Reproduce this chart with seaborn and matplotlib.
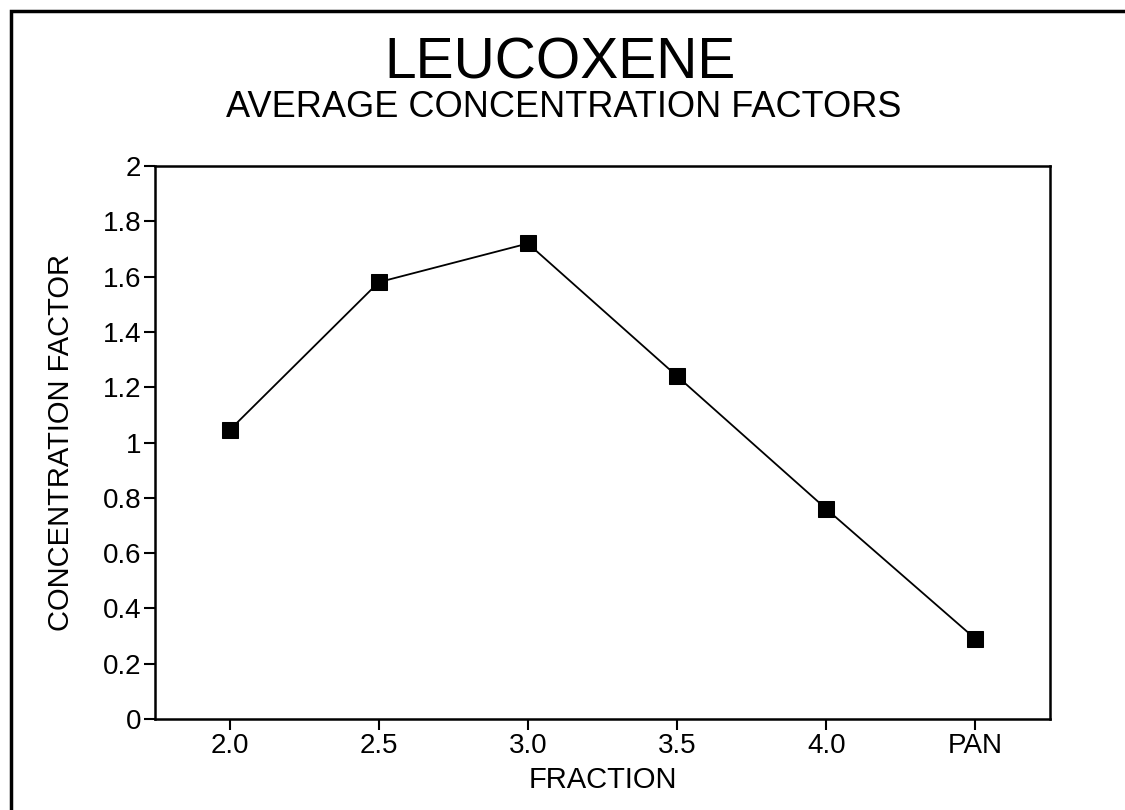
import matplotlib
matplotlib.use("Agg")
import matplotlib.pyplot as plt
import seaborn as sns
import pandas as pd
from matplotlib.patches import Rectangle

# values
fractions = ["2.0", "2.5", "3.0", "3.5", "4.0", "PAN"]
conc_factor = [1.045, 1.58, 1.72, 1.24, 0.76, 0.29]
y_ticks = [0, 0.2, 0.4, 0.6, 0.8, 1, 1.2, 1.4, 1.6, 1.8, 2]
y_tick_labels = ["0", "0.2", "0.4", "0.6", "0.8", "1", "1.2", "1.4", "1.6", "1.8", "2"]

df = pd.DataFrame({"fraction": fractions, "factor": conc_factor})

sns.set_style("white")
plt.rcParams["font.family"] = ["Liberation Sans", "DejaVu Sans"]
plt.rcParams["text.color"] = "black"
plt.rcParams["axes.labelcolor"] = "black"

fig = plt.figure(figsize=(11.25, 8.1), dpi=100)
ax = fig.add_axes([0.1378, 0.1123, 0.7955, 0.6827])

sns.lineplot(data=df, x="fraction", y="factor", sort=False, color="black",
             linewidth=1.3, marker="s", markersize=11, markeredgecolor="black",
             ax=ax)

ax.set_xlim(-0.5, 5.5)
ax.set_ylim(0, 2)
ax.set_yticks(y_ticks)
ax.set_yticklabels(y_tick_labels)
ax.tick_params(axis="both", direction="out", length=8, width=1.5,
               labelsize=20, color="black", labelcolor="black", pad=2)
ax.tick_params(axis="y", left=True)
ax.tick_params(axis="x", bottom=True)
for s in ax.spines.values():
    s.set_visible(True)
    s.set_color("black")
    s.set_linewidth(1.8)

ax.set_xlabel("FRACTION", fontsize=21, va="center")
ax.set_ylabel("CONCENTRATION FACTOR", fontsize=21, va="center")
ax.xaxis.set_label_coords(0.5, -0.11)
ax.yaxis.set_label_coords(-0.105, 0.5)

fig.text(0.498, 0.921, "LEUCOXENE", fontsize=41, ha="center", va="center")
fig.text(0.501, 0.867, "AVERAGE CONCENTRATION FACTORS", fontsize=26,
         ha="center", va="center")

# outer frame (right and bottom edges fall outside the picture)
fig.patches.append(Rectangle((11 / 1125, -0.05), 1.2, 1 - 11 / 810 + 0.05,
                             transform=fig.transFigure, fill=False,
                             edgecolor="black", linewidth=2.5))

fig.savefig("out.png", dpi=100)
